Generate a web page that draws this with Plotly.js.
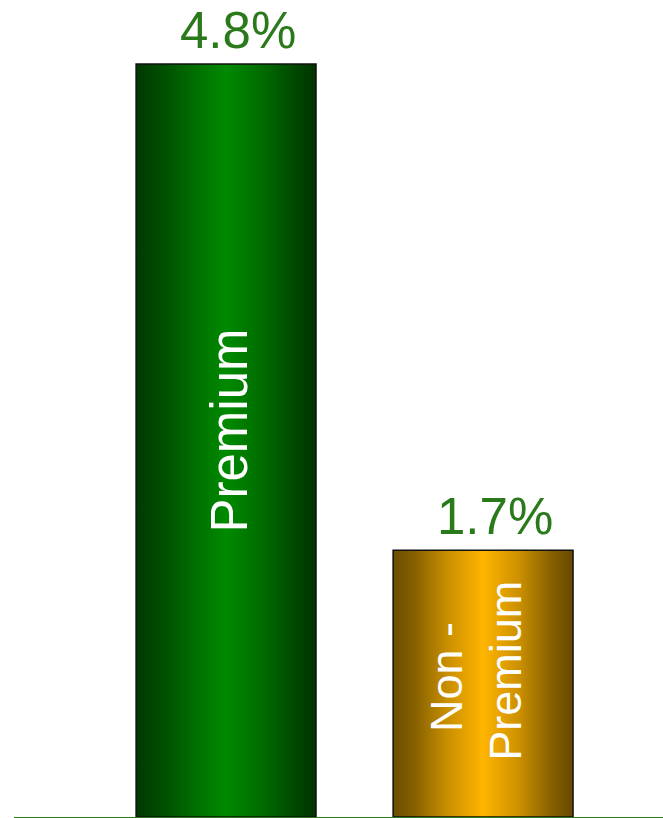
<!DOCTYPE html>
<html>
<head>
<meta charset="utf-8">
<script src="https://cdn.plot.ly/plotly-3.0.1.min.js"></script>
<style>html,body{margin:0;padding:0;background:#fff;}#chart{width:663px;height:818px;}</style>
</head>
<body>
<div id="chart"></div>
<script>
// ---- data ----
const categories = ['Premium', 'Non -\u00a0<br>Premium'];
const values = [4.8, 1.7];
const valueLabels = ['4.8%', '1.7%'];

// ---- styles ----
const barWidth = 0.7;
const gradients = [
  [[0, '#013801'], [0.12, '#004a00'], [0.3, '#006a00'], [0.5, '#008a00'], [0.7, '#006c00'], [0.88, '#004800'], [1, '#003300']],
  [[0, '#6b4e00'], [0.12, '#866000'], [0.3, '#c98f00'], [0.5, '#ffb400'], [0.7, '#cc9000'], [0.88, '#866000'], [1, '#664a00']]
];
const labelColor = '#2a7a1c';
const textSizes = [51, 45];
const textShiftX = [3, -7];
const textShiftY = [10, 13];
const font = 'Liberation Sans, Arial, Helvetica, sans-serif';

const xRange = [-0.825, 1.70];
const yRange = [0, 5.208];

const traces = [];
values.forEach(function (v, i) {
  traces.push({
    type: 'scatter',
    mode: 'lines',
    x: [i - barWidth / 2, i + barWidth / 2, i + barWidth / 2, i - barWidth / 2, i - barWidth / 2],
    y: [0, 0, v, v, 0],
    fill: 'toself',
    fillgradient: { type: 'horizontal', colorscale: gradients[i] },
    line: { width: 0 },
    hoverinfo: 'skip',
    showlegend: false,
    xaxis: 'x',
    yaxis: 'y'
  });
});

traces.push({
  type: 'bar',
  x: values.map(function (_, i) { return i; }),
  y: values,
  width: barWidth,
  hovertext: categories,
  marker: { color: 'rgba(0,0,0,0)', line: { color: '#111111', width: 1.5 } },
  hoverinfo: 'skip',
  showlegend: false,
  xaxis: 'x2',
  yaxis: 'y2'
});

const annotations = [];
values.forEach(function (v, i) {
  annotations.push({
    x: i, y: v, xref: 'x2', yref: 'y2',
    text: valueLabels[i],
    showarrow: false,
    xanchor: 'center', yanchor: 'bottom',
    xshift: 12, yshift: 3,
    font: { color: labelColor, size: 51, family: font }
  });
  annotations.push({
    x: i, y: v / 2, xref: 'x2', yref: 'y2',
    text: categories[i],
    showarrow: false,
    textangle: -90,
    xanchor: 'center', yanchor: 'middle',
    xshift: textShiftX[i], yshift: textShiftY[i],
    font: { color: '#ffffff', size: textSizes[i], family: font }
  });
});

const layout = {
  width: 663, height: 818,
  margin: { l: 14, r: 0, t: 0, b: 1 },
  paper_bgcolor: '#ffffff', plot_bgcolor: '#ffffff',
  showlegend: false,
  xaxis: { range: xRange, showgrid: false, zeroline: false, showticklabels: false, ticks: '',
           showline: true, linecolor: '#2a7d1a', linewidth: 1.2, fixedrange: true },
  yaxis: { range: yRange, visible: false, fixedrange: true },
  xaxis2: { range: xRange, overlaying: 'x', anchor: 'y2', visible: false, fixedrange: true },
  yaxis2: { range: yRange, overlaying: 'y', anchor: 'x2', visible: false, fixedrange: true },
  annotations: annotations
};

Plotly.newPlot('chart', traces, layout, { displayModeBar: false, staticPlot: true });
</script>
</body>
</html>
